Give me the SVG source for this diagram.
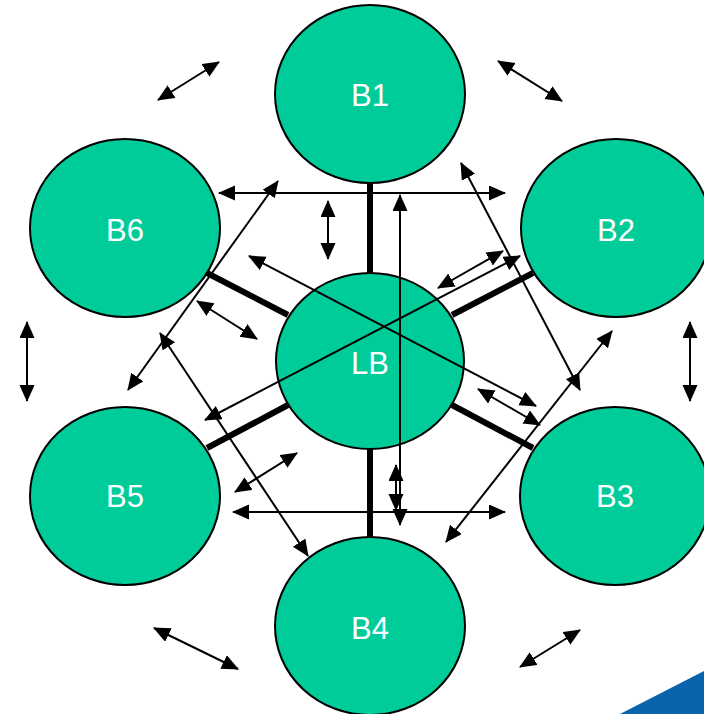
<svg xmlns="http://www.w3.org/2000/svg" width="704" height="714" viewBox="0 0 704 714">
<style>
.node ellipse{fill:#00CC99;stroke:#000;stroke-width:2}
.node text{font-family:"Liberation Sans",Arial,sans-serif;font-size:31px;fill:#fff;text-anchor:middle}
.spoke{stroke:#000;stroke-width:6;fill:none}
.arr{stroke:#000;stroke-width:2;fill:none;marker-start:url(#ah);marker-end:url(#ah)}
</style>
<defs>
<marker id="ah" markerUnits="userSpaceOnUse" markerWidth="18" markerHeight="16" refX="16" refY="7.5" orient="auto-start-reverse" viewBox="0 0 18 16">
<path d="M0,0 L17,7.5 L0,15 z" fill="#000"/>
</marker>
</defs>
<rect width="704" height="714" fill="#fff"/>
<polygon points="620,714 704,671 704,714" fill="#0a63ad"/>
<g id="B1" class="node"><ellipse cx="370" cy="94" rx="95" ry="89"/><text x="370" y="106">B1</text></g>
<g id="B2" class="node"><ellipse cx="616" cy="228" rx="95" ry="89"/><text x="616" y="241">B2</text></g>
<g id="B3" class="node"><ellipse cx="615" cy="496" rx="95" ry="89"/><text x="615" y="507">B3</text></g>
<g id="B4" class="node"><ellipse cx="370" cy="626" rx="95" ry="89"/><text x="370" y="639">B4</text></g>
<g id="B5" class="node"><ellipse cx="125" cy="496" rx="95" ry="89"/><text x="125" y="507">B5</text></g>
<g id="B6" class="node"><ellipse cx="125" cy="228" rx="95" ry="89"/><text x="125" y="241">B6</text></g>
<g id="LB" class="node"><ellipse cx="370" cy="361" rx="94" ry="88"/><text x="370" y="374">LB</text></g>
<g id="connectors">
<line class="spoke" x1="370" y1="183" x2="370" y2="273"/>
<line class="spoke" x1="370" y1="449" x2="370" y2="537"/>
<line class="spoke" x1="207" y1="273" x2="288" y2="315"/>
<line class="spoke" x1="452" y1="315" x2="533" y2="273"/>
<line class="spoke" x1="207" y1="448" x2="288" y2="405"/>
<line class="spoke" x1="452" y1="405" x2="533" y2="448"/>
<line class="arr" x1="219" y1="193" x2="505" y2="193"/>
<line class="arr" x1="328" y1="201" x2="328" y2="259"/>
<line class="arr" x1="400" y1="195" x2="400" y2="525"/>
<line class="arr" x1="396" y1="465" x2="396" y2="510"/>
<line class="arr" x1="278" y1="181" x2="128" y2="390"/>
<line class="arr" x1="461" y1="163" x2="580" y2="390"/>
<line class="arr" x1="249" y1="256" x2="536" y2="406"/>
<line class="arr" x1="520" y1="256" x2="205" y2="420"/>
<line class="arr" x1="438" y1="288" x2="503" y2="251"/>
<line class="arr" x1="197" y1="301" x2="257" y2="339"/>
<line class="arr" x1="478" y1="389" x2="540" y2="425"/>
<line class="arr" x1="160" y1="333" x2="308" y2="556"/>
<line class="arr" x1="612" y1="331" x2="446" y2="542"/>
<line class="arr" x1="235" y1="492" x2="297" y2="453"/>
<line class="arr" x1="233" y1="512" x2="505" y2="512"/>
<line class="arr" x1="158" y1="100" x2="219" y2="62"/>
<line class="arr" x1="498" y1="61" x2="562" y2="101"/>
<line class="arr" x1="27" y1="322" x2="27" y2="401"/>
<line class="arr" x1="690" y1="322" x2="690" y2="401"/>
<line class="arr" x1="154" y1="628" x2="238" y2="669"/>
<line class="arr" x1="520" y1="667" x2="580" y2="630"/>
</g>
</svg>
